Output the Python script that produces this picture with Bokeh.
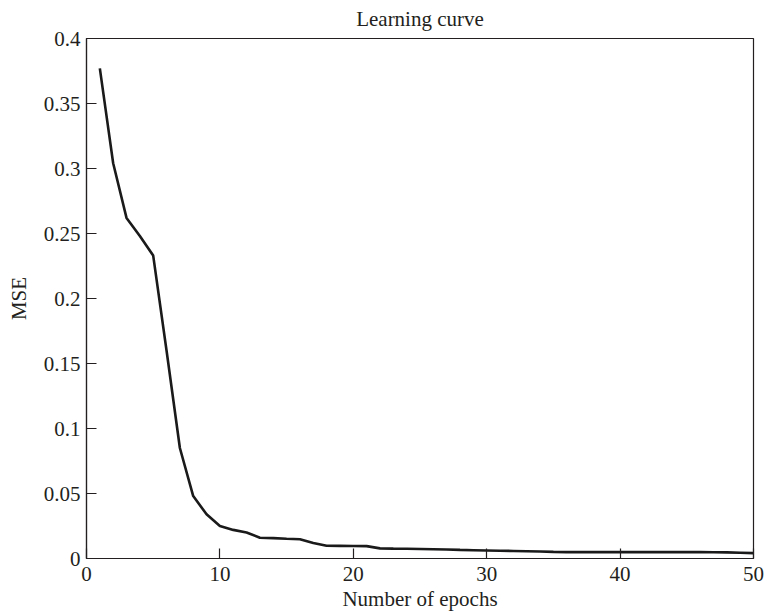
from bokeh.plotting import figure
from bokeh.models import FixedTicker
from bokeh.embed import file_html
from bokeh.resources import INLINE

# Mean squared error recorded after each training epoch
epochs = list(range(1, 51))
mse = [
    0.377, 0.304, 0.262, 0.248, 0.233, 0.160, 0.085, 0.048, 0.034, 0.025,
    0.022, 0.020, 0.016, 0.0157, 0.0152, 0.0148, 0.012, 0.0098, 0.0097, 0.0096,
    0.0095, 0.0078, 0.0076, 0.0075, 0.0073, 0.0071, 0.0069, 0.0066, 0.0064, 0.0062,
    0.0060, 0.0058, 0.0056, 0.0054, 0.0051, 0.0049, 0.0049, 0.0049, 0.0049, 0.0049,
    0.0049, 0.0049, 0.0049, 0.0049, 0.0049, 0.0049, 0.0048, 0.0047, 0.0044, 0.0041,
]

x_ticks = [0, 10, 20, 30, 40, 50]
y_ticks = [0, 0.05, 0.1, 0.15, 0.2, 0.25, 0.3, 0.35, 0.4]
y_tick_labels = ["0", "0.05", "0.1", "0.15", "0.2", "0.25", "0.3", "0.35", "0.4"]

FONT = "Liberation Serif"
TEXT = "#231f20"

p = figure(
    width=770, height=613,
    x_range=(0, 50), y_range=(0, 0.4),
    output_backend="svg", toolbar_location=None,
    title="Learning curve",
    min_border_left=86, min_border_right=17,
    min_border_top=38, min_border_bottom=55,
)

p.line(epochs, mse, line_color="#1a1a1a", line_width=2.6)

# plot box
p.outline_line_color = "#231f20"
p.outline_line_width = 1.2
p.outline_line_alpha = 1.0
p.xgrid.visible = False
p.ygrid.visible = False
p.background_fill_color = "white"
p.border_fill_color = "white"

p.title.align = "center"
p.title.vertical_align = "top"
p.title.text_font = FONT
p.title.text_font_size = "21px"
p.title.text_font_style = "normal"
p.title.text_color = TEXT
p.title.standoff = 12

for ax in (p.xaxis[0], p.yaxis[0]):
    ax.axis_line_color = "#231f20"
    ax.axis_line_width = 1.2
    ax.major_tick_in = 10
    ax.major_tick_out = 0
    ax.major_tick_line_color = "#231f20"
    ax.major_tick_line_width = 1.2
    ax.minor_tick_line_color = None
    ax.major_label_text_font = FONT
    ax.major_label_text_font_size = "21px"
    ax.major_label_text_color = TEXT
    ax.axis_label_text_font = FONT
    ax.axis_label_text_font_size = "21px"
    ax.axis_label_text_font_style = "normal"
    ax.axis_label_text_color = TEXT

p.xaxis.ticker = FixedTicker(ticks=x_ticks)
p.xaxis.axis_label = "Number of epochs"
p.xaxis.major_label_standoff = 8
p.xaxis.axis_label_standoff = 3

p.yaxis.ticker = FixedTicker(ticks=y_ticks)
p.yaxis.major_label_overrides = {t: s for t, s in zip(y_ticks, y_tick_labels)}
p.yaxis.axis_label = "MSE"
p.yaxis.major_label_standoff = 6
p.yaxis.axis_label_standoff = 10

open("out.html", "w").write(file_html(p, INLINE))
